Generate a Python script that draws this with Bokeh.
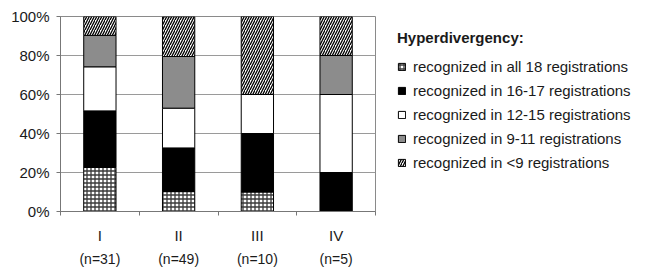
from bokeh.plotting import figure
from bokeh.models import (ColumnDataSource, Range1d, FixedTicker, LinearAxis,
                          Legend, LegendItem)
from bokeh.embed import file_html
from bokeh.resources import INLINE

# ---- data -------------------------------------------------------------
groups = ["I", "II", "III", "IV"]
group_n = ["(n=31)", "(n=49)", "(n=10)", "(n=5)"]

series_labels = [
    "recognized in all 18 registrations",
    "recognized in 16-17 registrations",
    "recognized in 12-15 registrations",
    "recognized in 9-11 registrations",
    "recognized in <9 registrations",
]
all18 = [22.6, 10.2, 10.0, 0.0]
r16_17 = [29.0, 22.4, 30.0, 20.0]
r12_15 = [22.6, 20.4, 20.0, 40.0]
r9_11 = [16.1, 26.5, 0.0, 20.0]
lt9 = [9.7, 20.4, 40.0, 20.0]

y_ticks = [0, 20, 40, 60, 80, 100]
y_tick_labels = ["0%", "20%", "40%", "60%", "80%", "100%"]
legend_title = "Hyperdivergency:"

# ---- styles -----------------------------------------------------------
FONT = "Liberation Sans"
fills = ["white", "black", "white", "#8c8c8c", "white"]
hatches = ["cross", " ", " ", " ", "right_diagonal_line"]
hatch_colors = ["#3a3a3a", "black", "black", "black", "black"]
hatch_scales = [4.0, 12.0, 12.0, 12.0, 5.0]
hatch_weights = [1.3, 1.0, 1.0, 1.0, 1.3]

x_center = [i + 0.5 for i in range(len(groups))]
x_bounds = list(range(len(groups) + 1))
keys = ["s0", "s1", "s2", "s3", "s4"]
source = ColumnDataSource(dict(x=x_center, s0=all18, s1=r16_17, s2=r12_15,
                               s3=r9_11, s4=lt9))

p = figure(frame_width=315, frame_height=195,
           x_range=Range1d(0, len(groups)), y_range=Range1d(0, 100),
           output_backend="svg", toolbar_location=None,
           x_axis_location=None, y_axis_location="left",
           min_border_left=60, min_border_right=272, min_border_top=16,
           min_border_bottom=0)
p.outline_line_color = "#8a8a8a"
p.background_fill_color = "white"
p.border_fill_color = "white"

renderers = p.vbar_stack(keys, x="x", width=0.41, source=source,
                         fill_color=fills, line_color="black", line_width=1,
                         hatch_pattern=hatches, hatch_color=hatch_colors,
                         hatch_scale=hatch_scales, hatch_weight=hatch_weights)

# y axis
ya = p.yaxis[0]
ya.ticker = FixedTicker(ticks=y_ticks)
ya.major_label_overrides = dict(zip(y_ticks, y_tick_labels))
ya.axis_line_color = "#777777"
ya.major_tick_line_color = "#777777"
ya.major_tick_out = 4
ya.major_tick_in = 0
ya.minor_tick_line_color = None
ya.major_label_standoff = 7
ya.major_label_text_font = FONT
ya.major_label_text_font_size = "15px"
ya.major_label_text_color = "#1a1a1a"

p.ygrid.ticker = FixedTicker(ticks=y_ticks)
p.ygrid.grid_line_color = "#9a9a9a"
p.xgrid.visible = False

# x axis: boundary ticks + roman numerals
xa = LinearAxis(ticker=FixedTicker(ticks=x_center, minor_ticks=x_bounds),
                major_label_overrides=dict(zip(x_center, groups)))
xa.axis_line_color = "#777777"
xa.major_tick_line_color = None
xa.major_tick_out = 0
xa.major_tick_in = 0
xa.minor_tick_line_color = "#777777"
xa.minor_tick_out = 4
xa.minor_tick_in = 0
xa.major_label_standoff = 11
xa.major_label_text_font = FONT
xa.major_label_text_font_size = "15px"
xa.major_label_text_color = "#1a1a1a"
p.add_layout(xa, "below")

xn = LinearAxis(ticker=FixedTicker(ticks=x_center, minor_ticks=[]),
                major_label_overrides=dict(zip(x_center, group_n)))
xn.axis_line_color = None
xn.major_tick_line_color = None
xn.minor_tick_line_color = None
xn.major_tick_out = 0
xn.major_tick_in = 0
xn.major_label_standoff = 4
xn.major_label_text_font = FONT
xn.major_label_text_font_size = "14px"
xn.major_label_text_color = "#1a1a1a"
p.add_layout(xn, "below")

# legend
items = [LegendItem(label=lab, renderers=[r]) for lab, r in zip(series_labels, renderers)]
legend = Legend(items=items, location=(22, 40), title=legend_title)
legend.title_text_font = FONT
legend.title_text_font_size = "15px"
legend.title_text_font_style = "bold"
legend.title_text_color = "#1a1a1a"
legend.title_standoff = 12
legend.label_text_font = FONT
legend.label_text_font_size = "15px"
legend.label_text_color = "#1a1a1a"
legend.glyph_width = 9
legend.glyph_height = 9
legend.label_standoff = 7
legend.spacing = 7
legend.padding = 0
legend.margin = 0
legend.border_line_color = None
legend.background_fill_color = None
p.add_layout(legend, "right")

open("out.html", "w").write(file_html(p, INLINE))
